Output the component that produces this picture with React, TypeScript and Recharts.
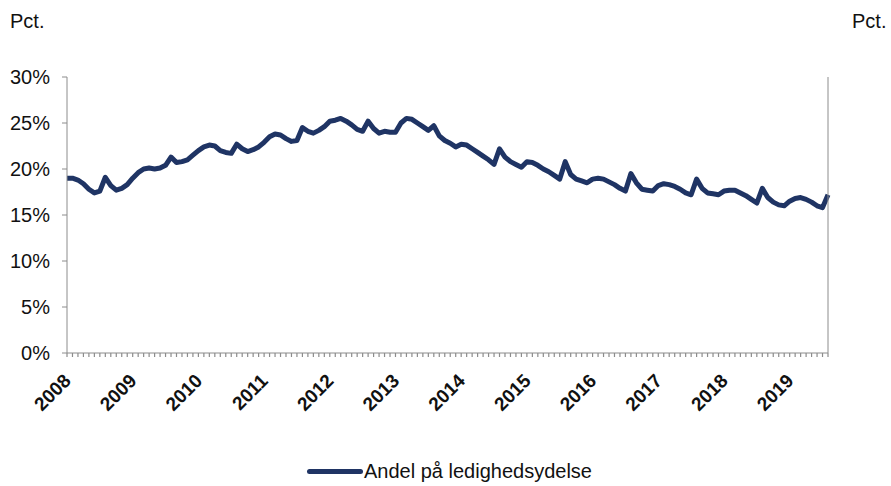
import { LineChart, Line, XAxis, YAxis, Legend } from 'recharts'

// Andel på ledighedsydelse, pct., månedlig jan 2008 - aug 2019
const years = [2008, 2009, 2010, 2011, 2012, 2013, 2014, 2015, 2016, 2017, 2018, 2019]

const share2008 = [19.0, 19.0, 18.8, 18.4, 17.8, 17.4, 17.6, 19.1, 18.2, 17.7, 17.9, 18.3]
const share2009 = [19.0, 19.6, 20.0, 20.1, 20.0, 20.1, 20.4, 21.3, 20.7, 20.8, 21.0, 21.5]
const share2010 = [22.0, 22.4, 22.6, 22.5, 22.0, 21.8, 21.7, 22.7, 22.2, 21.9, 22.1, 22.4]
const share2011 = [22.9, 23.5, 23.8, 23.7, 23.3, 23.0, 23.1, 24.5, 24.1, 23.9, 24.2, 24.6]
const share2012 = [25.2, 25.3, 25.5, 25.2, 24.8, 24.3, 24.1, 25.2, 24.4, 23.9, 24.1, 24.0]
const share2013 = [24.0, 25.0, 25.5, 25.4, 25.0, 24.6, 24.2, 24.7, 23.6, 23.1, 22.8, 22.4]
const share2014 = [22.7, 22.6, 22.2, 21.8, 21.4, 21.0, 20.5, 22.2, 21.3, 20.8, 20.5, 20.2]
const share2015 = [20.8, 20.7, 20.4, 20.0, 19.7, 19.3, 18.9, 20.8, 19.4, 18.9, 18.7, 18.5]
const share2016 = [18.9, 19.0, 18.9, 18.6, 18.3, 17.9, 17.6, 19.5, 18.5, 17.8, 17.7, 17.6]
const share2017 = [18.2, 18.4, 18.3, 18.1, 17.8, 17.4, 17.2, 18.9, 17.9, 17.4, 17.3, 17.2]
const share2018 = [17.6, 17.7, 17.7, 17.4, 17.1, 16.7, 16.3, 17.9, 16.9, 16.4, 16.1, 16.0]
const share2019 = [16.5, 16.8, 16.9, 16.7, 16.4, 16.0, 15.8, 17.2]

const yTicks = [0, 5, 10, 15, 20, 25, 30]

const shares = [
  share2008, share2009, share2010, share2011, share2012, share2013,
  share2014, share2015, share2016, share2017, share2018, share2019
]

const data = shares.flatMap((vals, yi) =>
  vals.map((v, m) => ({ month: `${years[yi]}-${m + 1}`, label: m === 0 ? String(years[yi]) : '', andel: v }))
)

const NAVY = '#1f3464'
const AXIS = '#8c8c8c'
const FONT = '"Liberation Sans", Arial, Helvetica, sans-serif'

const YearTick = (props: any) => {
  const { x, y, index } = props
  const label = data[index]?.label
  if (!label) return null
  return (
    <text
      x={x + 5}
      y={y + 23}
      textAnchor="end"
      transform={`rotate(-45, ${x + 5}, ${y + 23})`}
      fontSize={19}
      fontWeight="bold"
      fontFamily={FONT}
      fill="#111"
    >
      {label}
    </text>
  )
}

const LegendContent = () => (
  <div style={{ display: 'flex', alignItems: 'center', fontFamily: FONT, fontSize: 20, color: '#111' }}>
    <span style={{ display: 'inline-block', width: 56, height: 5, background: NAVY, borderRadius: 3, marginRight: 1 }} />
    <span>Andel på ledighedsydelse</span>
  </div>
)

export default function App() {
  return (
    <div style={{ width: 891, height: 486, position: 'relative', background: '#fff' }}>
      <style>{'body{margin:0}'}</style>
      <LineChart width={891} height={486} data={data} margin={{ top: 77, right: 0, bottom: 0, left: 0 }}>
        <XAxis
          dataKey="month"
          interval={0}
          height={133}
          tick={<YearTick />}
          tickSize={4}
          stroke={AXIS}
          tickLine={{ stroke: AXIS, strokeWidth: 1.2 }}
        />
        <YAxis
          yAxisId="left"
          domain={[0, 30]}
          ticks={yTicks}
          width={67}
          tickSize={5}
          tickMargin={12}
          tickFormatter={(v) => `${v}%`}
          stroke={AXIS}
          tick={{ fill: '#111', fontSize: 20, fontFamily: FONT }}
          label={{
            content: () => (
              <text x={10} y={28} fontSize={20} fontFamily={FONT} fill="#111">Pct.</text>
            )
          }}
        />
        <YAxis
          yAxisId="right"
          orientation="right"
          domain={[0, 30]}
          ticks={yTicks}
          width={63}
          tickSize={5}
          tickMargin={5}
          tickFormatter={(v) => `${v}%`}
          stroke={AXIS}
          tick={{ fill: '#111', fontSize: 20, fontFamily: FONT, textAnchor: 'start' }}
          label={{
            content: () => (
              <text x={852} y={28} fontSize={20} fontFamily={FONT} fill="#111">Pct.</text>
            )
          }}
        />
        <Legend
          layout="horizontal"
          verticalAlign="middle"
          align="center"
          content={<LegendContent />}
          wrapperStyle={{ top: 460, left: 307, width: 320, height: 26 }}
        />
        <Line
          yAxisId="left"
          type="linear"
          dataKey="andel"
          stroke={NAVY}
          strokeWidth={5}
          strokeLinejoin="round"
          dot={false}
          isAnimationActive={false}
        />
      </LineChart>
    </div>
  )
}
